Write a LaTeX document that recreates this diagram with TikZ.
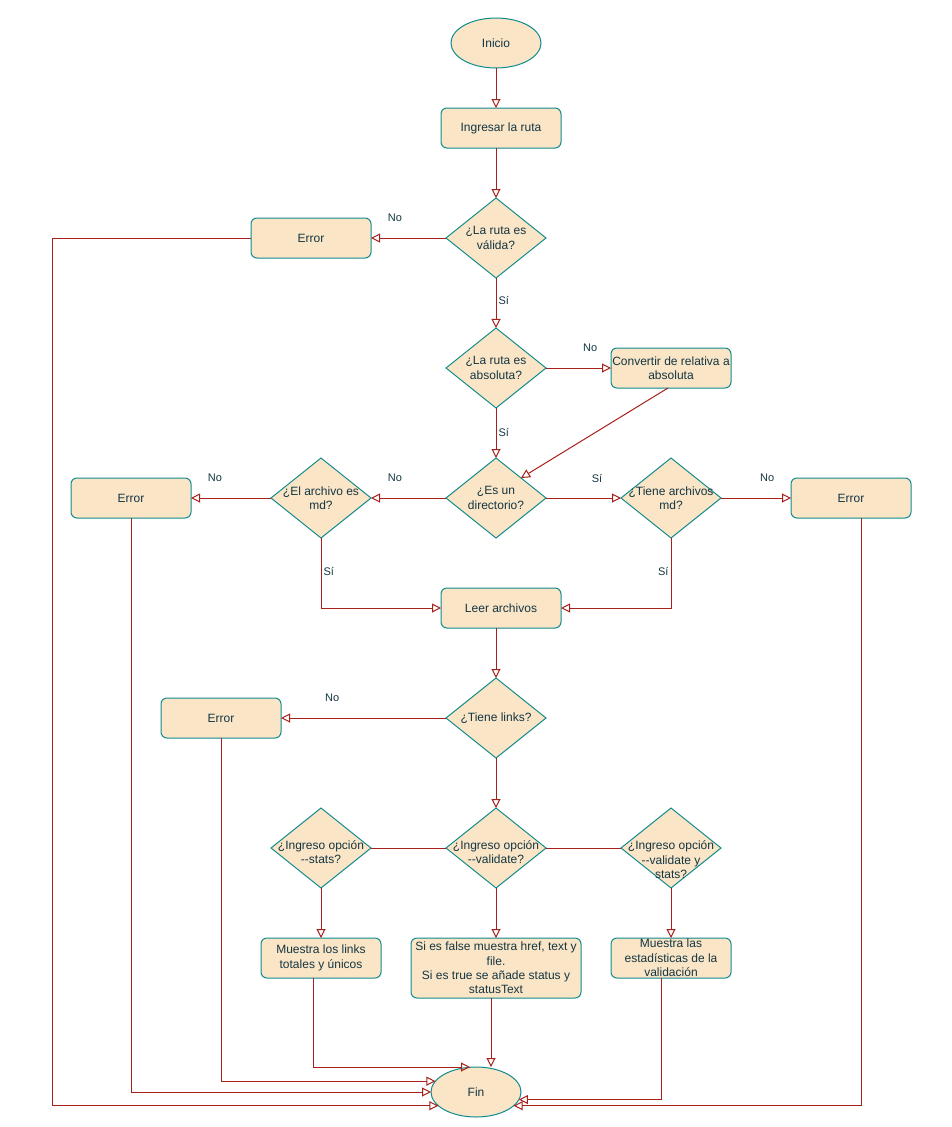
\documentclass[tikz,border=0pt]{standalone}
\usepackage{fontspec}
\setmainfont{Liberation Sans}
\usepackage{tikz}
\usetikzlibrary{arrows.meta}
\usetikzlibrary{positioning}
\usetikzlibrary{shapes.geometric}

\definecolor{boxfill}{HTML}{FAE5C7}
\definecolor{boxline}{HTML}{0F8B8D}
\definecolor{flowline}{HTML}{A8201A}
\definecolor{ink}{HTML}{143642}

\begin{document}
\begin{tikzpicture}[x=1pt,y=-1pt,->,>={Triangle[open,length=9pt,width=9pt]},
  line width=1pt,color=flowline,
  every node/.style={font=\fontsize{12pt}{14.4pt}\selectfont,text=ink},
  start node/.style={ellipse,draw=boxline,fill=boxfill,minimum width=90pt,minimum height=50pt,
    inner sep=0pt,outer sep=0pt},
  box node/.style={rectangle,rounded corners=6pt,draw=boxline,fill=boxfill,minimum width=120pt,
    minimum height=40pt,inner xsep=1pt,inner ysep=0pt,outer sep=0pt,align=center},
  test node/.style={diamond,draw=boxline,fill=boxfill,minimum width=100pt,minimum height=80pt,
    inner sep=0pt,outer sep=0pt},
  qtext/.style={align=center},
  yes no/.style={font=\fontsize{11pt}{13pt}\selectfont,inner sep=2pt}]

  \fill[white] (0,0) rectangle (951,1127);

  % main column
  \node[start node] (inicio) at (496,43) {Inicio};
  \node[box node] (ruta) [below=40pt of inicio, xshift=5pt] {Ingresar la ruta};
  \node[test node, label={[qtext]center:¿La ruta es\\válida?}] (valida) [below=50pt of ruta, xshift=-5pt] {};
  \node[box node] (error1) [left=75pt of valida] {Error};
  \node[test node, label={[qtext]center:¿La ruta es\\absoluta?}] (absoluta) [below=50pt of valida] {};
  \node[box node] (convertir) [right=65pt of absoluta] {Convertir de relativa a\\absoluta};
  \node[test node, label={[qtext]center:¿Es un\\directorio?}] (directorio) [below=50pt of absoluta] {};
  \node[test node, label={[qtext]center:¿El archivo es\\md?}] (esmd) [left=75pt of directorio] {};
  \node[box node] (error2) [left=80pt of esmd] {Error};
  \node[test node, label={[qtext]center:¿Tiene archivos\\md?}] (tienemd) [right=75pt of directorio] {};
  \node[box node] (error4) [right=70pt of tienemd] {Error};
  \node[box node] (leer) [below=50pt of directorio, xshift=5pt] {Leer archivos};
  \node[test node, label={[qtext]center:¿Tiene links?}] (links) [below=50pt of leer, xshift=-5pt] {};
  \node[box node] (error3) [left=165pt of links] {Error};

  % options
  \node[test node, label={[qtext,yshift=-4pt]center:¿Ingreso opción\\-\kern0pt-validate?}] (validate) [below=50pt of links] {};
  \node[test node, label={[qtext,yshift=-4pt]center:¿Ingreso opción\\-\kern0pt-stats?}] (stats) [left=75pt of validate] {};
  \node[test node, label={[qtext,yshift=-12pt]center:¿Ingreso opción\\-\kern0pt-validate y\\stats?}] (valstats) [right=75pt of validate] {};
  \node[box node] (mlinks) [below=50pt of stats] {Muestra los links\\totales y únicos};
  \node[box node, minimum width=170pt, minimum height=60pt] (msfalse) [below=50pt of validate]
    {Si es false muestra href, text y\\file.\\Si es true se añade status y\\statusText};
  \node[box node] (mest) [below=50pt of valstats] {Muestra las\\estadísticas de la\\validación};
  \node[start node] (fin) at (476,1092) {Fin};

  \draw (inicio.south) -- (inicio.south |- ruta.north);
  \draw (valida.north |- ruta.south) -- (valida.north);
  \draw (links.north |- leer.south) -- (links.north);

  \path
    (valida) edge node[yes no, pos=0.68, yshift=20pt] {No} (error1)
    (valida) edge node[yes no, right, pos=0.44] {Sí} (absoluta)
    (absoluta) edge node[yes no, pos=0.68, yshift=20pt] {No} (convertir)
    (absoluta) edge node[yes no, right, pos=0.48] {Sí} (directorio)
    (directorio) edge node[yes no, pos=0.68, yshift=20pt] {No} (esmd)
    (esmd) edge node[yes no, pos=0.7, yshift=20pt] {No} (error2)
    (directorio) edge node[yes no, pos=0.68, yshift=20pt] {Sí} (tienemd)
    (tienemd) edge node[yes no, pos=0.66, yshift=20pt] {No} (error4)
    (links) edge node[yes no, pos=0.69, yshift=20pt] {No} (error3)
    (links) edge (validate)
    (stats) edge (mlinks)
    (validate) edge (msfalse)
    (valstats) edge (mest);

  \draw ([xshift=-3pt]convertir.south) -- (directorio.north east);
  \draw (esmd.south) |- node[yes no, right, pos=0.24] {Sí} (leer.west);
  \draw (tienemd.south) |- node[yes no, left, pos=0.24] {Sí} (leer.east);
  \draw[-] (validate.west) -- (stats.east);
  \draw[-] (validate.east) -- (valstats.west);

  % everything ends in Fin
  \draw (error1.west) -- ++(-199pt,0) |- (fin.200);
  \draw (error2.south) |- (fin.west);
  \draw (error3.south) |- (fin.165);
  \draw ([xshift=-8pt]mlinks.south) |- ([xshift=-6pt]fin.north);
  \draw ([xshift=-5pt]msfalse.south) -- ([xshift=-5pt]msfalse.south |- fin.north);
  \draw ([xshift=-10pt]mest.south) |- (fin.-10);
  \draw ([xshift=10pt]error4.south) |- (fin.-20);
\end{tikzpicture}
\end{document}
